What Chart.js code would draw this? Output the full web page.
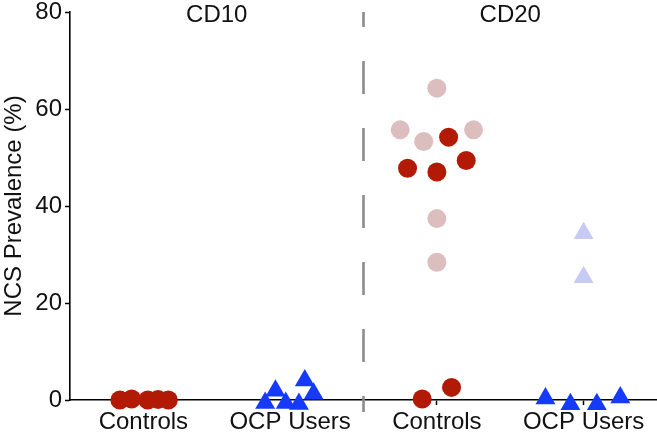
<!DOCTYPE html>
<html>
<head>
<meta charset="utf-8">
<script src="https://cdn.jsdelivr.net/npm/chart.js@4/dist/chart.umd.min.js"></script>
<style>
  html, body { margin: 0; padding: 0; background: #fff; }
  #wrap { width: 657px; height: 440px; }
</style>
</head>
<body>
<div id="wrap"><canvas id="c" width="657" height="440"></canvas></div>
<script>
// Category positions on the x axis: 1..4
const categories = ['Controls', 'OCP Users', 'Controls', 'OCP Users'];
const groupLabels = ['CD10', 'CD20'];
const groupCenters = [1.5, 3.5];
const dividerX = 2.5;
const yTicks = [0, 20, 40, 60, 80];

// CD10 Controls (dark red circles)
const cd10ControlsX = [0.84, 0.92, 1.03, 1.10, 1.17];
const cd10ControlsY = [0.0, 0.2, 0.0, 0.1, 0.0];
// CD10 OCP Users (blue triangles)
const cd10OcpX = [1.83, 1.97, 1.90, 2.06, 2.10, 2.16];
const cd10OcpY = [-0.6, -0.6, 1.9, -0.8, 4.0, 1.3];
// CD20 Controls - dark red circles
const cd20ControlsDarkX = [3.08, 2.80, 3.00, 3.20, 2.90, 3.10];
const cd20ControlsDarkY = [54.2, 47.8, 47.0, 49.4, 0.2, 2.6];
// CD20 Controls - light (faded) circles
const cd20ControlsLightX = [3.00, 2.75, 2.91, 3.25, 3.00, 3.00];
const cd20ControlsLightY = [64.3, 55.7, 53.3, 55.7, 37.4, 28.4];
// CD20 OCP Users - blue triangles
const cd20OcpDarkX = [3.74, 3.91, 4.09, 4.25];
const cd20OcpDarkY = [0.3, -0.9, -0.9, 0.5];
// CD20 OCP Users - light (faded) triangles
const cd20OcpLightX = [4.00, 4.00];
const cd20OcpLightY = [34.4, 25.3];

const zip = (xs, ys) => xs.map((x, i) => ({ x: x, y: ys[i] }));

const FONT = '"Liberation Sans", Arial, Helvetica, sans-serif';
const DARK_RED = 'rgb(178,26,6)';
const LIGHT_RED = 'rgb(221,190,190)';
const BLUE = 'rgb(22,58,250)';
const LIGHT_BLUE = 'rgb(200,202,246)';

const overlay = {
  id: 'overlay',
  beforeDatasetsDraw(chart) {
    const { ctx, chartArea, scales } = chart;
    const x = scales.x.getPixelForValue(dividerX);
    ctx.save();
    ctx.strokeStyle = 'rgb(140,140,140)';
    ctx.lineWidth = 2.6;
    ctx.setLineDash([33, 34]);
    ctx.lineDashOffset = 18;
    ctx.beginPath();
    ctx.moveTo(x, chartArea.top);
    ctx.lineTo(x, chartArea.bottom + 12);
    ctx.stroke();
    ctx.restore();

    ctx.save();
    ctx.fillStyle = '#111';
    ctx.font = '24px ' + FONT;
    ctx.textAlign = 'center';
    ctx.textBaseline = 'middle';
    groupLabels.forEach((g, i) => {
      ctx.fillText(g, scales.x.getPixelForValue(groupCenters[i]), 15);
    });
    ctx.restore();
  }
};

const common = { pointBorderWidth: 0, borderWidth: 0, showLine: false, clip: false };

new Chart(document.getElementById('c'), {
  type: 'scatter',
  data: {
    datasets: [
      Object.assign({ data: zip(cd20ControlsLightX, cd20ControlsLightY), pointStyle: 'circle', pointRadius: 9.5, backgroundColor: LIGHT_RED, borderColor: LIGHT_RED }, common),
      Object.assign({ data: zip(cd20OcpLightX, cd20OcpLightY), pointStyle: 'triangle', pointRadius: 11.5, backgroundColor: LIGHT_BLUE, borderColor: LIGHT_BLUE }, common),
      Object.assign({ data: zip(cd10ControlsX, cd10ControlsY), pointStyle: 'circle', pointRadius: 9.5, backgroundColor: DARK_RED, borderColor: DARK_RED }, common),
      Object.assign({ data: zip(cd20ControlsDarkX, cd20ControlsDarkY), pointStyle: 'circle', pointRadius: 9.5, backgroundColor: DARK_RED, borderColor: DARK_RED }, common),
      Object.assign({ data: zip(cd10OcpX, cd10OcpY), pointStyle: 'triangle', pointRadius: 11.5, backgroundColor: BLUE, borderColor: BLUE }, common),
      Object.assign({ data: zip(cd20OcpDarkX, cd20OcpDarkY), pointStyle: 'triangle', pointRadius: 11.5, backgroundColor: BLUE, borderColor: BLUE }, common)
    ]
  },
  options: {
    responsive: false,
    animation: false,
    events: [],
    layout: { autoPadding: false, padding: { top: 12, right: 0, left: 0, bottom: 0 } },
    plugins: { legend: { display: false }, tooltip: { enabled: false } },
    scales: {
      x: {
        type: 'linear',
        min: 0.5,
        max: 4.5,
        afterBuildTicks: (scale) => { scale.ticks = [1, 2, 3, 4].map(v => ({ value: v })); },
        afterFit: (scale) => { scale.height = 40; scale.paddingLeft = 0; scale.paddingRight = 0; },
        ticks: {
          autoSkip: false,
          maxRotation: 0,
          padding: 3,
          color: '#111',
          font: { family: FONT, size: 24 },
          callback: (v) => categories[Math.round(v) - 1]
        },
        grid: { display: true, drawOnChartArea: false, drawTicks: true, tickLength: 5, tickColor: '#000', tickWidth: 1.5 },
        border: { display: true, color: '#000', width: 1.6 }
      },
      y: {
        min: 0,
        max: 80,
        afterBuildTicks: (scale) => { scale.ticks = yTicks.map(v => ({ value: v })); },
        afterFit: (scale) => { scale.width = 70; scale.paddingTop = 0; scale.paddingBottom = 0; },
        ticks: {
          padding: 3,
          color: '#111',
          font: { family: FONT, size: 24 }
        },
        title: {
          display: true,
          text: 'NCS Prevalence (%)',
          color: '#111',
          font: { family: FONT, size: 24 },
          padding: { top: 0, bottom: 0 }
        },
        grid: { display: true, drawOnChartArea: false, drawTicks: true, tickLength: 5, tickColor: '#000', tickWidth: 1.5 },
        border: { display: true, color: '#000', width: 1.6 }
      }
    }
  },
  plugins: [overlay]
});
</script>
</body>
</html>
